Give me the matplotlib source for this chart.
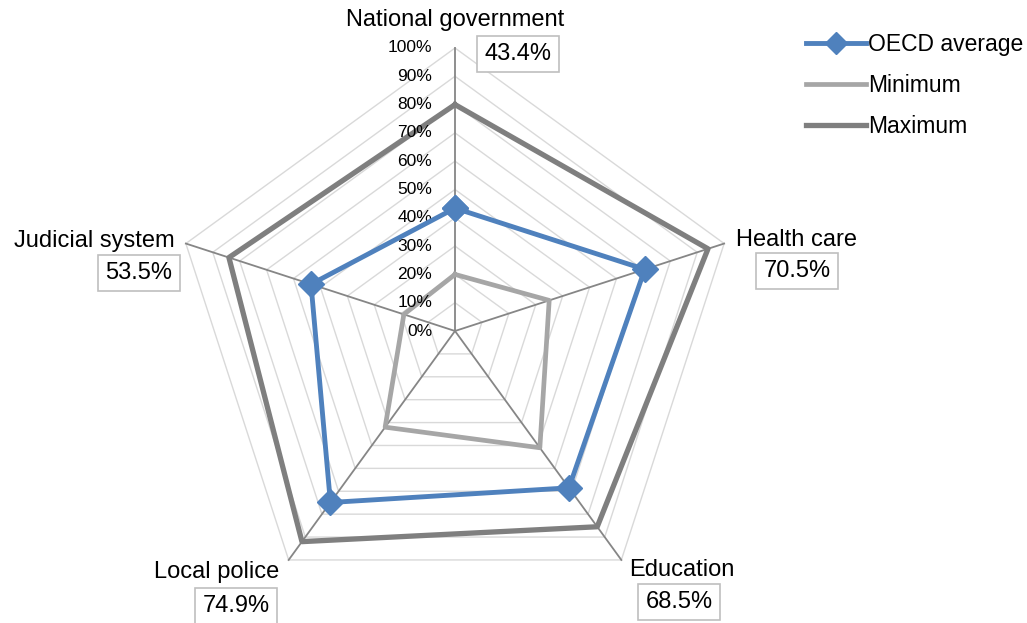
import numpy as np
import matplotlib.pyplot as plt

plt.rcParams['font.family'] = ['Liberation Sans', 'DejaVu Sans']

categories = ['National government', 'Health care', 'Education', 'Local police', 'Judicial system']
oecd_avg = [0.434, 0.705, 0.685, 0.749, 0.535]
minimum = [0.20, 0.35, 0.51, 0.42, 0.19]
maximum = [0.80, 0.94, 0.855, 0.92, 0.84]
value_labels = ['43.4%', '70.5%', '68.5%', '74.9%', '53.5%']
ticks = np.arange(0, 1.01, 0.1)

W, H = 1027, 623
cx, cy, scale = 455, 331, 283  # centre and 100% radius in pixels

fig = plt.figure(figsize=(W / 100, H / 100), dpi=100)
ax = fig.add_axes([0, 0, 1, 1])
ax.set_xlim(-cx / scale, (W - cx) / scale)
ax.set_ylim(-(H - cy) / scale, cy / scale)
ax.axis('off')

angles = np.arange(len(categories)) * 2 * np.pi / len(categories)


def xy(values):
    v = np.append(values, values[0])
    a = np.append(angles, angles[0])
    return v * np.sin(a), v * np.cos(a)


# polygon grid
for t in ticks[1:]:
    gx, gy = xy(np.full(len(categories), t))
    ax.plot(gx, gy, color='#d9d9d9', lw=1, zorder=1)
for a in angles:
    ax.plot([0, np.sin(a)], [0, np.cos(a)], color='#868686', lw=1.3, zorder=2)

mx, my = xy(maximum)
ax.plot(mx, my, color='#7f7f7f', lw=3.8, zorder=3, label='Maximum')
nx, ny = xy(minimum)
ax.plot(nx, ny, color='#a6a6a6', lw=3.4, zorder=3, label='Minimum')
ox, oy = xy(oecd_avg)
ax.plot(ox, oy, color='#4f81bd', lw=3.5, marker='D', markersize=13,
        zorder=4, label='OECD average')


def px(x, y):
    return x / W, 1 - y / H


# tick labels along the top spoke
for t in ticks:
    ax.text(-0.08, t, f'{t * 100:.0f}%', ha='right', va='center', fontsize=12.5)

# category labels and value boxes (pixel positions)
cat_pos = [(455, 20), (797, 240), (682, 570), (217, 572), (94, 241)]
box_pos = [(518, 54), (797, 271), (679, 602), (236, 606), (139, 273)]
for name, (x, y) in zip(categories, cat_pos):
    fig.text(*px(x, y), name, ha='center', va='center', fontsize=17)
for lab, (x, y) in zip(value_labels, box_pos):
    fig.text(*px(x, y), lab, ha='center', va='center', fontsize=17,
             bbox=dict(boxstyle='square,pad=0.3', fc='white', ec='#bfbfbf', lw=1.2))

# legend
handles, labels = ax.get_legend_handles_labels()
order = [2, 1, 0]
ax.legend([handles[i] for i in order], [labels[i] for i in order],
          loc='upper left', bbox_to_anchor=(806 / W, 1 - 33 / H),
          bbox_transform=fig.transFigure, frameon=False, fontsize=16.5,
          handlelength=2.6, handletextpad=0.1, labelspacing=0.78, borderaxespad=0,
          borderpad=0, markerscale=0.9)

fig.savefig('out.png', dpi=100)
